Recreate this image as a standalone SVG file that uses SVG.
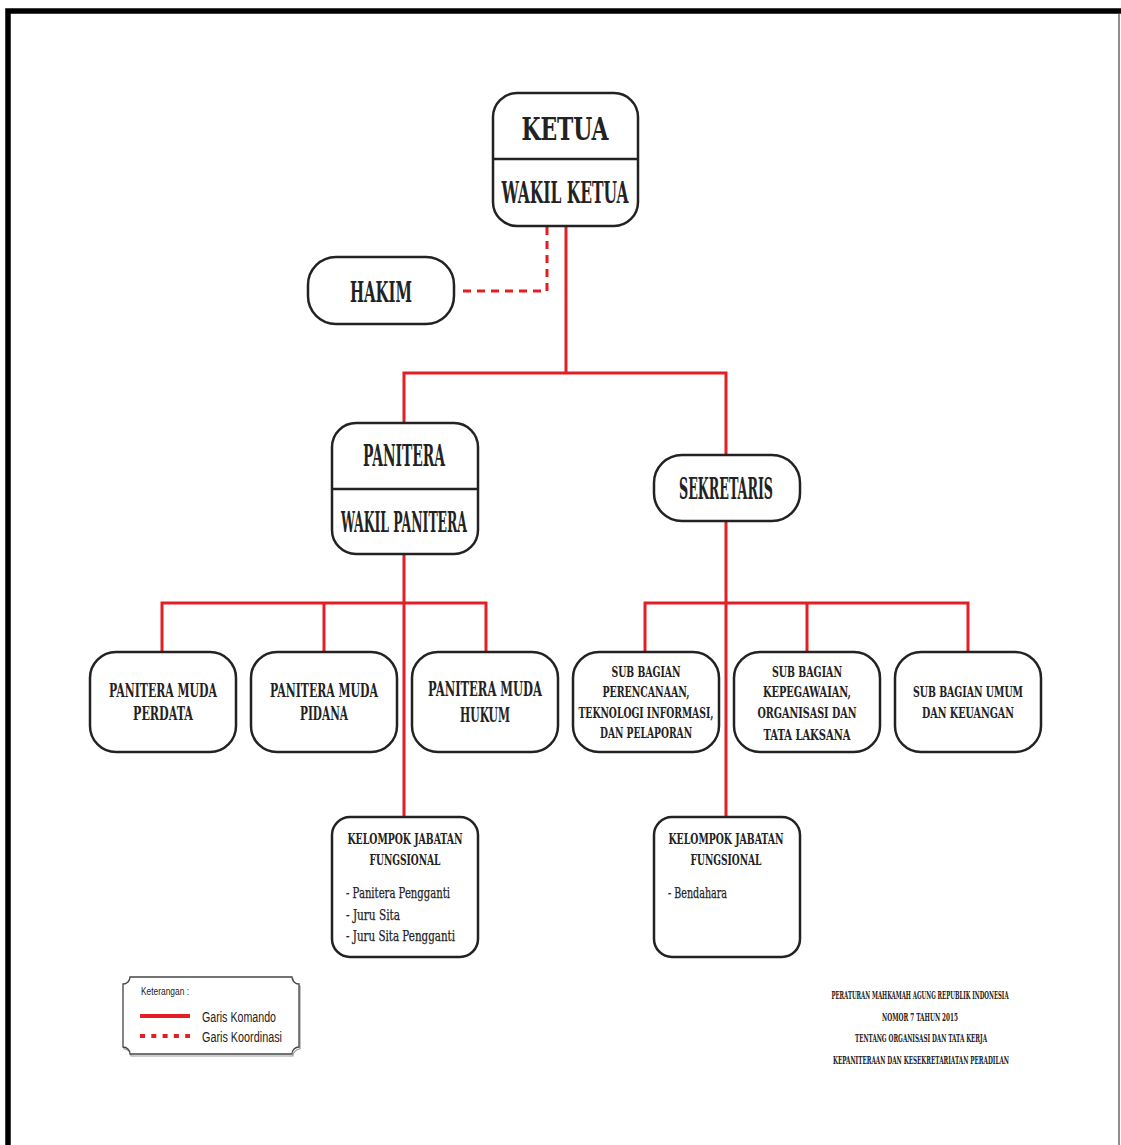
<svg xmlns="http://www.w3.org/2000/svg" width="1121" height="1145" viewBox="0 0 1121 1145">
<style>
.box{fill:#fff;stroke:#222;stroke-width:2.5}
.cmd{fill:none;stroke:#e31e24;stroke-width:3}
.crd{fill:none;stroke:#e31e24;stroke-width:3;stroke-dasharray:8 6}
.t{font-family:"DejaVu Serif Condensed","DejaVu Serif","Liberation Serif",serif;font-weight:bold;fill:#222;text-anchor:middle}
.tl{font-family:"DejaVu Serif Condensed","DejaVu Serif","Liberation Serif",serif;fill:#222;stroke:#222;stroke-width:0.25}
.ref{font-family:"DejaVu Serif Condensed","DejaVu Serif","Liberation Serif",serif;font-weight:bold;font-size:11px;fill:#222;text-anchor:middle}
.leg{font-family:"Liberation Sans",Arial,sans-serif;fill:#222}
</style>
<rect x="0" y="0" width="1121" height="1145" fill="#fff"/>
<!-- frame -->
<path d="M8 1145 V11 H1121" fill="none" stroke="#000" stroke-width="5.5"/>
<line x1="1119" y1="13" x2="1119" y2="1145" stroke="#444" stroke-width="1.2"/>

<g id="connectors">
  <path class="crd" d="M547 227 V291 H463"/>
  <path class="cmd" d="M566 226 V373"/>
  <path class="cmd" d="M404 423 V373 H726 V455"/>
  <path class="cmd" d="M404 554 V817"/>
  <path class="cmd" d="M726 521 V817"/>
  <path class="cmd" d="M162 652 V603 H486 V652"/>
  <path class="cmd" d="M324 603 V652"/>
  <path class="cmd" d="M645 652 V603 H968 V652"/>
  <path class="cmd" d="M807 603 V652"/>
</g>

<g id="ketua">
  <rect class="box" x="493" y="93" width="145" height="133" rx="24"/>
  <line x1="493" y1="159" x2="638" y2="159" stroke="#222" stroke-width="2.5"/>
  <text class="t" x="565" y="140" font-size="32" textLength="87" lengthAdjust="spacingAndGlyphs">KETUA</text>
  <text class="t" x="565" y="203" font-size="29" textLength="127" lengthAdjust="spacingAndGlyphs">WAKIL KETUA</text>
</g>

<g id="hakim">
  <rect class="box" x="308" y="257" width="146" height="67" rx="28"/>
  <text class="t" x="381" y="302" font-size="28" textLength="62" lengthAdjust="spacingAndGlyphs">HAKIM</text>
</g>

<g id="panitera">
  <rect class="box" x="332" y="423" width="146" height="131" rx="24"/>
  <line x1="332" y1="489" x2="478" y2="489" stroke="#222" stroke-width="2.5"/>
  <text class="t" x="404" y="466" font-size="29" textLength="82" lengthAdjust="spacingAndGlyphs">PANITERA</text>
  <text class="t" x="404" y="532" font-size="28" textLength="126" lengthAdjust="spacingAndGlyphs">WAKIL PANITERA</text>
</g>

<g id="sekretaris">
  <rect class="box" x="654" y="455" width="146" height="66" rx="28"/>
  <text class="t" x="726" y="499" font-size="29" textLength="94" lengthAdjust="spacingAndGlyphs">SEKRETARIS</text>
</g>

<g id="pm-perdata">
  <rect class="box" x="90" y="652" width="146" height="100" rx="26"/>
  <text class="t" x="163" y="697" font-size="19" textLength="108" lengthAdjust="spacingAndGlyphs">PANITERA MUDA</text>
  <text class="t" x="163" y="720" font-size="19" textLength="60" lengthAdjust="spacingAndGlyphs">PERDATA</text>
</g>
<g id="pm-pidana">
  <rect class="box" x="251" y="652" width="146" height="100" rx="26"/>
  <text class="t" x="324" y="697" font-size="19" textLength="108" lengthAdjust="spacingAndGlyphs">PANITERA MUDA</text>
  <text class="t" x="324" y="720" font-size="19" textLength="48" lengthAdjust="spacingAndGlyphs">PIDANA</text>
</g>
<g id="pm-hukum">
  <rect class="box" x="412" y="652" width="146" height="100" rx="26"/>
  <text class="t" x="485" y="696" font-size="20" textLength="114" lengthAdjust="spacingAndGlyphs">PANITERA MUDA</text>
  <text class="t" x="485" y="722" font-size="20" textLength="50" lengthAdjust="spacingAndGlyphs">HUKUM</text>
</g>

<g id="sb-perencanaan">
  <rect class="box" x="573" y="652" width="146" height="100" rx="26"/>
  <text class="t" x="646" y="677" font-size="14" textLength="69" lengthAdjust="spacingAndGlyphs">SUB BAGIAN</text>
  <text class="t" x="646" y="697" font-size="14" textLength="87" lengthAdjust="spacingAndGlyphs">PERENCANAAN,</text>
  <text class="t" x="646" y="718" font-size="14" textLength="135" lengthAdjust="spacingAndGlyphs">TEKNOLOGI INFORMASI,</text>
  <text class="t" x="646" y="738" font-size="14" textLength="92" lengthAdjust="spacingAndGlyphs">DAN PELAPORAN</text>
</g>
<g id="sb-kepegawaian">
  <rect class="box" x="734" y="652" width="146" height="100" rx="26"/>
  <text class="t" x="807" y="677" font-size="14" textLength="70" lengthAdjust="spacingAndGlyphs">SUB BAGIAN</text>
  <text class="t" x="807" y="697" font-size="14" textLength="88" lengthAdjust="spacingAndGlyphs">KEPEGAWAIAN,</text>
  <text class="t" x="807" y="718" font-size="14" textLength="99" lengthAdjust="spacingAndGlyphs">ORGANISASI DAN</text>
  <text class="t" x="807" y="740" font-size="14" textLength="87" lengthAdjust="spacingAndGlyphs">TATA LAKSANA</text>
</g>
<g id="sb-umum">
  <rect class="box" x="895" y="652" width="146" height="100" rx="26"/>
  <text class="t" x="968" y="697" font-size="15" textLength="110" lengthAdjust="spacingAndGlyphs">SUB BAGIAN UMUM</text>
  <text class="t" x="968" y="718" font-size="15" textLength="92" lengthAdjust="spacingAndGlyphs">DAN KEUANGAN</text>
</g>

<g id="fungsional-panitera">
  <rect class="box" x="332" y="817" width="146" height="140" rx="18"/>
  <text class="t" x="405" y="844" font-size="15" textLength="115" lengthAdjust="spacingAndGlyphs">KELOMPOK JABATAN</text>
  <text class="t" x="405" y="865" font-size="15" textLength="71" lengthAdjust="spacingAndGlyphs">FUNGSIONAL</text>
  <text class="tl" x="346" y="898" font-size="15" textLength="104" lengthAdjust="spacingAndGlyphs">- Panitera Pengganti</text>
  <text class="tl" x="346" y="920" font-size="15" textLength="54" lengthAdjust="spacingAndGlyphs">- Juru Sita</text>
  <text class="tl" x="346" y="941" font-size="15" textLength="109" lengthAdjust="spacingAndGlyphs">- Juru Sita Pengganti</text>
</g>
<g id="fungsional-sekretaris">
  <rect class="box" x="654" y="817" width="146" height="140" rx="18"/>
  <text class="t" x="726" y="844" font-size="15" textLength="115" lengthAdjust="spacingAndGlyphs">KELOMPOK JABATAN</text>
  <text class="t" x="726" y="865" font-size="15" textLength="71" lengthAdjust="spacingAndGlyphs">FUNGSIONAL</text>
  <text class="tl" x="668" y="898" font-size="15" textLength="59" lengthAdjust="spacingAndGlyphs">- Bendahara</text>
</g>

<g id="legend">
  <path d="M131 979 H293 A7 7 0 0 0 300 986 V1049 A7 7 0 0 0 293 1056 H131 A7 7 0 0 0 124 1049 V986 A7 7 0 0 0 131 979 Z" fill="none" stroke="#999" stroke-width="1.2"/>
  <path d="M130 977 H292 A7 7 0 0 0 299 984 V1047 A7 7 0 0 0 292 1054 H130 A7 7 0 0 0 123 1047 V984 A7 7 0 0 0 130 977 Z" fill="#fff" stroke="#444" stroke-width="1.3"/>
  <text class="leg" x="141" y="995" font-size="11" textLength="48" lengthAdjust="spacingAndGlyphs">Keterangan :</text>
  <line x1="140" y1="1016" x2="190" y2="1016" stroke="#e31e24" stroke-width="4"/>
  <line x1="140" y1="1036" x2="190" y2="1036" stroke="#e31e24" stroke-width="4" stroke-dasharray="5 6.3"/>
  <text class="leg" x="202" y="1022" font-size="14" textLength="74" lengthAdjust="spacingAndGlyphs">Garis Komando</text>
  <text class="leg" x="202" y="1042" font-size="14" textLength="80" lengthAdjust="spacingAndGlyphs">Garis Koordinasi</text>
</g>

<g id="reference">
  <text class="ref" transform="translate(920 999) scale(0.55 1)" x="0" y="0" textLength="322" lengthAdjust="spacingAndGlyphs">PERATURAN MAHKAMAH AGUNG REPUBLIK INDONESIA</text>
  <text class="ref" transform="translate(920 1021) scale(0.55 1)" x="0" y="0" textLength="138" lengthAdjust="spacingAndGlyphs">NOMOR 7 TAHUN 2015</text>
  <text class="ref" transform="translate(921 1042) scale(0.55 1)" x="0" y="0" textLength="240" lengthAdjust="spacingAndGlyphs">TENTANG ORGANISASI DAN TATA KERJA</text>
  <text class="ref" transform="translate(921 1064) scale(0.55 1)" x="0" y="0" textLength="320" lengthAdjust="spacingAndGlyphs">KEPANITERAAN DAN KESEKRETARIATAN PERADILAN</text>
</g>
</svg>
